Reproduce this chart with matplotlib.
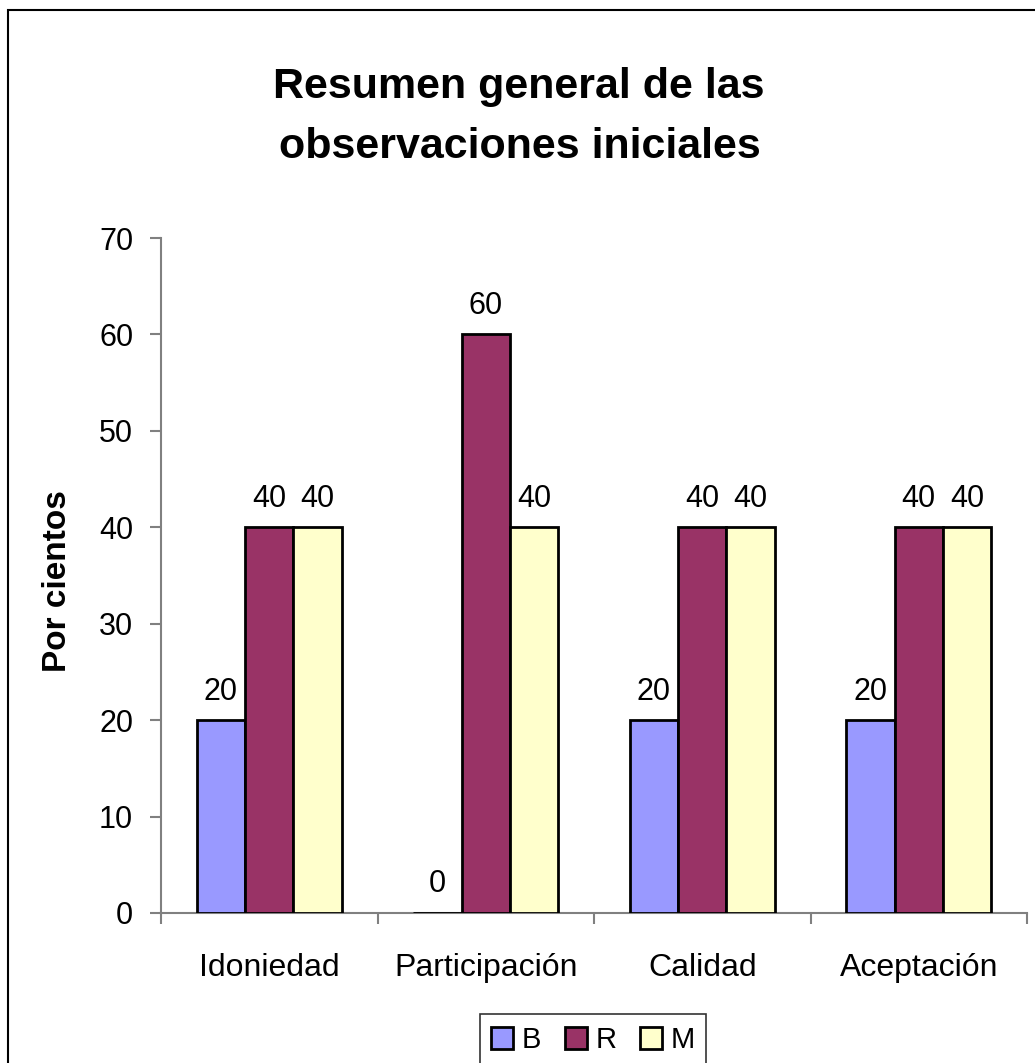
import matplotlib
matplotlib.use("Agg")
import matplotlib.pyplot as plt
import numpy as np
from matplotlib.patches import Rectangle

categories = ["Idoniedad", "Participación", "Calidad", "Aceptación"]
series_names = ["B", "R", "M"]
values_B = [20, 0, 20, 20]
values_R = [40, 60, 40, 40]
values_M = [40, 40, 40, 40]
colors = ["#9999FF", "#993366", "#FFFFCC"]
yticks = [0, 10, 20, 30, 40, 50, 60, 70]
title_lines = ["Resumen general de las", "observaciones iniciales"]

plt.rcParams["font.family"] = ["Liberation Sans", "DejaVu Sans"]

W, H = 1035, 1063
fig = plt.figure(figsize=(W / 100, H / 100), dpi=100)
fig.patches.append(Rectangle((8 / W, -0.01), 1.05, 1 - 10 / H + 0.01,
                             transform=fig.transFigure, fill=False,
                             edgecolor="black", linewidth=1.5))

ax = fig.add_axes([161 / W, 1 - 913 / H, (1027 - 161) / W, (913 - 238) / H])

x = np.arange(len(categories))
bw = 0.224
all_vals = [values_B, values_R, values_M]
for i, (name, vals, c) in enumerate(zip(series_names, all_vals, colors)):
    pos = x + (i - 1) * bw
    ax.bar(pos, vals, width=bw, color=c, edgecolor="black", linewidth=2,
           label=name, zorder=3)
    for px, v in zip(pos, vals):
        ax.text(px, v + 1.4, f"{v}", ha="center", va="bottom", fontsize=22)

ax.set_xlim(-0.5, len(categories) - 0.5)
ax.set_ylim(0, 70)
ax.set_yticks(yticks)
ax.set_xticks(np.arange(len(categories) + 1) - 0.5, minor=False)
ax.set_xticklabels([])
ax.set_xticks(x, minor=True)
ax.set_xticklabels(categories, minor=True, fontsize=23)
ax.tick_params(axis="x", which="minor", length=0, pad=29)
ax.tick_params(axis="x", which="major", length=8, color="#808080", width=1.5)
ax.tick_params(axis="y", length=8, color="#808080", width=1.5, labelsize=22, pad=12)

for s in ["top", "right"]:
    ax.spines[s].set_visible(False)
for s in ["left", "bottom"]:
    ax.spines[s].set_color("#808080")
    ax.spines[s].set_linewidth(1.5)

fig.text(57 / W, 1 - 581 / H, "Por cientos", rotation=90, ha="center", va="center",
         fontsize=24, fontweight="bold")

fig.text(519 / W, 1 - 98 / H, title_lines[0], ha="center", va="baseline",
         fontsize=31, fontweight="bold")
fig.text(520 / W, 1 - 158 / H, title_lines[1], ha="center", va="baseline",
         fontsize=31, fontweight="bold")

leg = fig.legend(loc="center", bbox_to_anchor=(593 / W, 1 - 1040 / H),
                 ncol=3, fontsize=21, frameon=True, fancybox=False,
                 edgecolor="black", handlelength=0.75, handleheight=0.75,
                 handletextpad=0.3, columnspacing=0.8, borderpad=0.4)
leg.get_frame().set_linewidth(1.2)

fig.savefig("out.png", dpi=100)
